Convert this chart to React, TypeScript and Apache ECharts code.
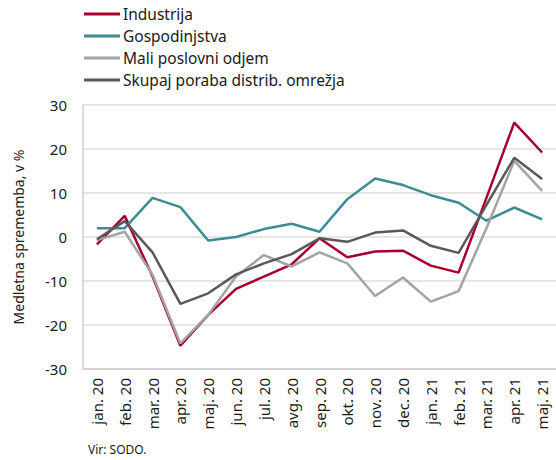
import React, { useEffect, useRef } from "react";
import * as echarts from "echarts";

const categories = [
  "jan. 20", "feb. 20", "mar. 20", "apr. 20", "maj. 20", "jun. 20", "jul. 20", "avg. 20",
  "sep. 20", "okt. 20", "nov. 20", "dec. 20", "jan. 21", "feb. 21", "mar. 21", "apr. 21", "maj. 21",
];

const industrija = [-1.7, 4.8, -9.0, -24.7, -17.7, -11.8, -9.0, -6.2, -0.3, -4.6, -3.3, -3.1, -6.5, -8.1, 8.9, 26.0, 19.2];
const gospodinjstva = [2.0, 2.0, 8.9, 6.8, -0.8, 0.0, 1.8, 3.0, 1.2, 8.6, 13.3, 11.8, 9.5, 7.8, 3.7, 6.7, 4.0];
const maliPoslovni = [-0.7, 1.2, -8.6, -24.2, -17.7, -9.0, -4.1, -6.7, -3.5, -6.0, -13.4, -9.2, -14.7, -12.3, 2.0, 17.3, 10.5];
const skupaj = [-0.5, 3.6, -3.5, -15.2, -12.8, -8.5, -6.0, -3.9, -0.3, -1.1, 1.0, 1.5, -2.0, -3.6, 7.3, 18.0, 13.2];

const seriesNames = ["Industrija", "Gospodinjstva", "Mali poslovni odjem", "Skupaj poraba distrib. omrežja"];
const seriesColors = ["#a6002a", "#3b8c95", "#a3a3a3", "#595959"];

const FONT = "Noto Sans";

export default function App() {
  const ref = useRef<HTMLDivElement>(null);
  useEffect(() => {
    if (!ref.current) return;
    const chart = echarts.init(ref.current, null, { renderer: "svg" });
    const data = [industrija, gospodinjstva, maliPoslovni, skupaj];
    chart.setOption({
      animation: false,
      textStyle: { fontFamily: FONT },
      legend: {
        orient: "vertical",
        left: 84,
        top: 6,
        padding: 0,
        itemWidth: 36,
        itemHeight: 3,
        itemGap: 6,
        icon: "rect",
        textStyle: { fontFamily: FONT, fontSize: 15.5, lineHeight: 16, color: "#1a1a1a", padding: [0, 0, 0, -2] },
        data: seriesNames,
      },
      grid: { left: 83, top: 105, bottom: 91, width: 476, containLabel: false },
      xAxis: {
        type: "category",
        data: categories,
        boundaryGap: true,
        axisLine: { onZero: false, lineStyle: { color: "#cfcfcf", width: 1.5 } },
        axisTick: { show: false },
        axisLabel: { rotate: 90, fontSize: 15, color: "#1a1a1a", fontFamily: FONT, margin: 9, interval: 0 },
        splitLine: { show: false },
      },
      yAxis: {
        type: "value",
        min: -30,
        max: 30,
        interval: 10,
        name: "Medletna sprememba, v %",
        nameLocation: "middle",
        nameGap: 58,
        nameTextStyle: { fontSize: 14, color: "#1a1a1a", fontFamily: FONT },
        axisLine: { show: true, lineStyle: { color: "#cfcfcf", width: 1.5 } },
        axisTick: { show: false },
        axisLabel: { fontSize: 15, color: "#1a1a1a", fontFamily: FONT, margin: 16 },
        splitLine: { lineStyle: { color: "#dcdcdc", width: 1.5 } },
      },
      graphic: [
        {
          type: "text",
          left: 88,
          top: 443,
          style: { text: "Vir: SODO.", fontSize: 12, fill: "#1a1a1a", fontFamily: FONT },
        },
      ],
      series: seriesNames.map((name, i) => ({
        name,
        type: "line",
        data: data[i],
        symbol: "none",
        lineStyle: { color: seriesColors[i], width: 2.5 },
        itemStyle: { color: seriesColors[i] },
      })),
    });
    return () => chart.dispose();
  }, []);
  return <div ref={ref} style={{ width: 556, height: 460, position: "absolute", left: 0, top: 0 }} />;
}
